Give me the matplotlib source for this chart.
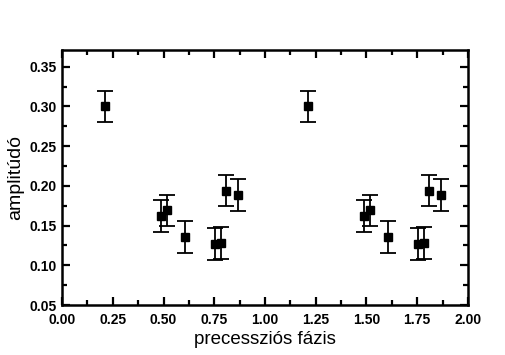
import matplotlib
matplotlib.use("Agg")
import matplotlib.pyplot as plt
from matplotlib.ticker import MultipleLocator

plt.rcParams['font.family'] = ['Liberation Sans', 'DejaVu Sans']

phase = [0.21, 0.49, 0.515, 0.605, 0.755, 0.785, 0.81, 0.865,
         1.21, 1.49, 1.515, 1.605, 1.755, 1.785, 1.81, 1.865]
amplitude = [0.300, 0.162, 0.169, 0.136, 0.127, 0.128, 0.194, 0.188,
             0.300, 0.162, 0.169, 0.136, 0.127, 0.128, 0.194, 0.188]
error = [0.020] * 16

fig = plt.figure(figsize=(5.05, 3.55), dpi=100)
ax = fig.add_axes([0.1228, 0.1408, 0.8039, 0.7184])
ax.errorbar(phase, amplitude, yerr=error, fmt='s', color='black', ms=6,
            ecolor='black', elinewidth=1.3, capsize=5.7, capthick=1.3)
ax.set_xlim(0, 2.0)
ax.set_ylim(0.05, 0.371)
ax.xaxis.set_major_locator(MultipleLocator(0.25))
ax.xaxis.set_minor_locator(MultipleLocator(0.125))
ax.yaxis.set_major_locator(MultipleLocator(0.05))
ax.yaxis.set_minor_locator(MultipleLocator(0.025))
ax.xaxis.set_major_formatter(plt.FormatStrFormatter('%.2f'))
ax.yaxis.set_major_formatter(plt.FormatStrFormatter('%.2f'))
ax.tick_params(which='both', direction='in', top=True, right=True, width=1.6,
               labelsize=10)
ax.tick_params(axis='x', pad=5.5)
ax.tick_params(axis='y', pad=4)
ax.tick_params(which='major', length=6)
ax.tick_params(which='minor', length=3.5)
for lab in ax.get_xticklabels() + ax.get_yticklabels():
    lab.set_fontweight('bold')
for s in ax.spines.values():
    s.set_linewidth(1.8)
ax.set_xlabel('precessziós fázis', fontsize=13.5, labelpad=3)
ax.set_ylabel('amplitúdó', fontsize=14, labelpad=4)
fig.savefig('out.png', dpi=100)
